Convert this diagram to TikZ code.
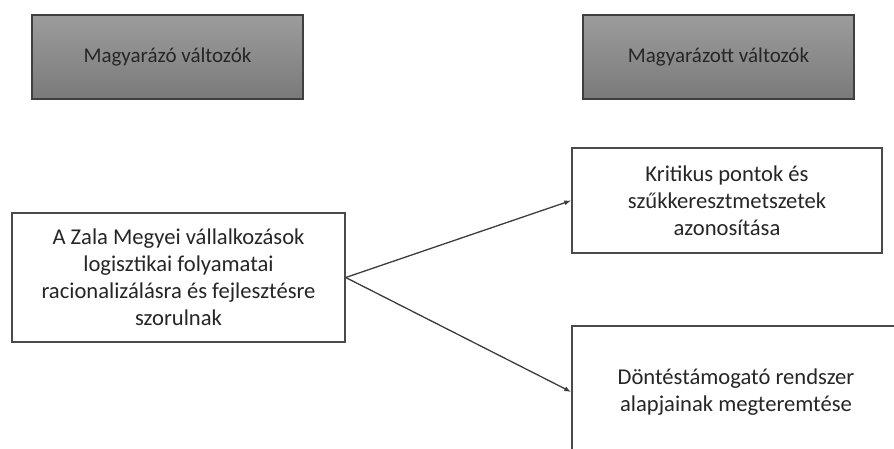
\documentclass[tikz,border=0pt]{standalone}
\usepackage{fontspec}
\setmainfont{Carlito}
\usetikzlibrary{arrows.meta}
\definecolor{txt}{HTML}{262626}
\definecolor{edge}{HTML}{4A4A4A}
\definecolor{graytop}{HTML}{9C9C9C}
\definecolor{graybot}{HTML}{7A7A7A}
\tikzset{
  x=1pt, y=-1pt,
  every node/.style={font=\fontsize{22.6}{27}\selectfont, text=txt, align=center, inner sep=0pt},
  headbox/.style={draw=edge!85!black, line width=1.8pt, top color=graytop, bottom color=graybot,
    minimum width=271pt, minimum height=84pt, font=\fontsize{21}{27}\selectfont},
  plainbox/.style={draw=edge, line width=1.4pt, fill=white},
  link/.style={draw=txt!90, line width=1.3pt, -{Latex[length=7pt,width=5pt]}}
}
\begin{document}
\begin{tikzpicture}
  \useasboundingbox (0,0) rectangle (894,449);
  \clip (0,0) rectangle (894,449);
  % column headers
  \node[headbox] (expl) at (167.5,57) {Magyarázó változók};
  \node[headbox] (resp) at (718.5,57) {Magyarázott változók};
  % explanatory statement
  \node[plainbox, minimum width=333pt, minimum height=129pt] (cause) at (178.5,277.5)
    {A Zala Megyei vállalkozások\\logisztikai folyamatai\\racionalizálásra és fejlesztésre\\szorulnak};
  % outcomes
  \node[plainbox, minimum width=310pt, minimum height=105pt] (crit) at (727,200.5)
    {Kritikus pontok és\\szűkkeresztmetszetek\\azonosítása};
  \node[plainbox, minimum width=328pt, minimum height=132pt] (dss) at (736,392)
    {Döntéstámogató rendszer\\alapjainak megteremtése};
  % connectors
  \draw[link] (cause.east) -- (crit.west);
  \draw[link] (cause.east) -- (dss.west);
\end{tikzpicture}
\end{document}
